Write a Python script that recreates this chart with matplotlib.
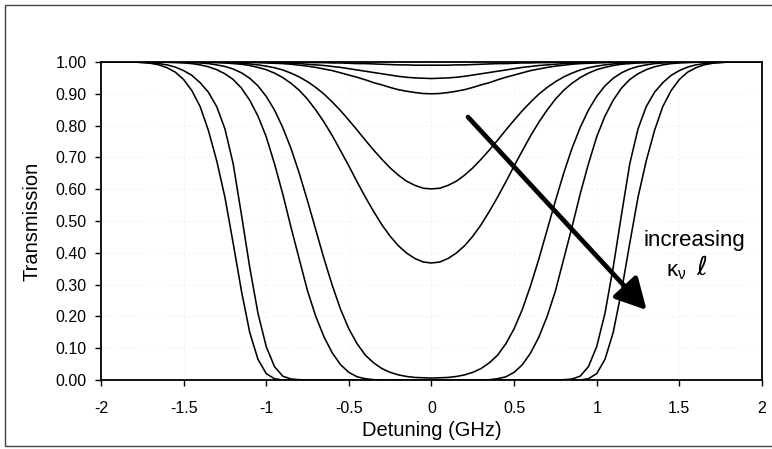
import matplotlib
matplotlib.use("Agg")
import matplotlib.pyplot as plt
from matplotlib.patches import Rectangle

# detuning grid (GHz) shared by every curve
detuning = [
    -2.00, -1.95, -1.90, -1.85, -1.80, -1.75, -1.70, -1.65, -1.60, -1.55,
    -1.50, -1.45, -1.40, -1.35, -1.30, -1.25, -1.20, -1.15, -1.10, -1.05,
    -1.00, -0.95, -0.90, -0.85, -0.80, -0.75, -0.70, -0.65, -0.60, -0.55,
    -0.50, -0.45, -0.40, -0.35, -0.30, -0.25, -0.20, -0.15, -0.10, -0.05,
    0.00,
    0.05, 0.10, 0.15, 0.20, 0.25, 0.30, 0.35, 0.40, 0.45, 0.50,
    0.55, 0.60, 0.65, 0.70, 0.75, 0.80, 0.85, 0.90, 0.95, 1.00,
    1.05, 1.10, 1.15, 1.20, 1.25, 1.30, 1.35, 1.40, 1.45, 1.50,
    1.55, 1.60, 1.65, 1.70, 1.75, 1.80, 1.85, 1.90, 1.95, 2.00,
]

# transmission curves, weakest absorption first
trans_1 = [
    1, 1, 1, 1, 1, 1, 1, 1, 1, 1,
    1, 1, 1, 1, 1, 1, 1, 1, 1, 1,
    1, 1, 1, 0.999, 0.999, 0.999, 0.998, 0.998, 0.997, 0.997,
    0.996, 0.995, 0.995, 0.994, 0.993, 0.992, 0.991, 0.991, 0.99, 0.99,
    0.99,
    0.99, 0.99, 0.991, 0.991, 0.992, 0.993, 0.994, 0.995, 0.995, 0.996,
    0.997, 0.997, 0.998, 0.998, 0.999, 0.999, 0.999, 1, 1, 1,
    1, 1, 1, 1, 1, 1, 1, 1, 1, 1,
    1, 1, 1, 1, 1, 1, 1, 1, 1, 1,
]
trans_2 = [
    1, 1, 1, 1, 1, 1, 1, 1, 1, 1,
    1, 1, 1, 1, 1, 1, 1, 1, 1, 0.999,
    0.999, 0.998, 0.997, 0.996, 0.995, 0.993, 0.991, 0.989, 0.986, 0.983,
    0.979, 0.975, 0.971, 0.967, 0.963, 0.959, 0.955, 0.952, 0.95, 0.949,
    0.948,
    0.949, 0.95, 0.952, 0.955, 0.959, 0.963, 0.967, 0.971, 0.975, 0.979,
    0.983, 0.986, 0.989, 0.991, 0.993, 0.995, 0.996, 0.997, 0.998, 0.999,
    0.999, 1, 1, 1, 1, 1, 1, 1, 1, 1,
    1, 1, 1, 1, 1, 1, 1, 1, 1, 1,
]
trans_3 = [
    1, 1, 1, 1, 1, 1, 1, 1, 1, 1,
    1, 1, 1, 1, 1, 1, 1, 0.999, 0.999, 0.998,
    0.997, 0.996, 0.995, 0.993, 0.99, 0.987, 0.983, 0.978, 0.973, 0.966,
    0.959, 0.952, 0.944, 0.935, 0.928, 0.92, 0.913, 0.908, 0.904, 0.901,
    0.9,
    0.901, 0.904, 0.908, 0.913, 0.92, 0.928, 0.935, 0.944, 0.952, 0.959,
    0.966, 0.973, 0.978, 0.983, 0.987, 0.99, 0.993, 0.995, 0.996, 0.997,
    0.998, 0.999, 0.999, 1, 1, 1, 1, 1, 1, 1,
    1, 1, 1, 1, 1, 1, 1, 1, 1, 1,
]
trans_4 = [
    1, 1, 1, 1, 1, 1, 1, 1, 1, 1,
    1, 1, 1, 0.999, 0.999, 0.998, 0.998, 0.996, 0.994, 0.991,
    0.987, 0.982, 0.975, 0.965, 0.953, 0.938, 0.92, 0.899, 0.874, 0.847,
    0.817, 0.786, 0.754, 0.723, 0.694, 0.667, 0.644, 0.625, 0.612, 0.603,
    0.601,
    0.603, 0.612, 0.625, 0.644, 0.667, 0.694, 0.723, 0.754, 0.786, 0.817,
    0.847, 0.874, 0.899, 0.92, 0.938, 0.953, 0.965, 0.975, 0.982, 0.987,
    0.991, 0.994, 0.996, 0.998, 0.998, 0.999, 0.999, 1, 1, 1,
    1, 1, 1, 1, 1, 1, 1, 1, 1, 1,
]
trans_5 = [
    1, 1, 1, 1, 1, 1, 1, 1, 1, 1,
    1, 1, 0.999, 0.999, 0.998, 0.997, 0.995, 0.993, 0.989, 0.983,
    0.976, 0.965, 0.951, 0.933, 0.911, 0.883, 0.849, 0.811, 0.768, 0.721,
    0.673, 0.623, 0.575, 0.53, 0.488, 0.452, 0.422, 0.399, 0.382, 0.371,
    0.368,
    0.371, 0.382, 0.399, 0.422, 0.452, 0.488, 0.53, 0.575, 0.623, 0.673,
    0.721, 0.768, 0.811, 0.849, 0.883, 0.911, 0.933, 0.951, 0.965, 0.976,
    0.983, 0.989, 0.993, 0.995, 0.997, 0.998, 0.999, 0.999, 1, 1,
    1, 1, 1, 1, 1, 1, 1, 1, 1, 1,
]
trans_6 = [
    1, 1, 1, 1, 1, 1, 1, 1, 1, 1,
    0.999, 0.998, 0.997, 0.995, 0.991, 0.986, 0.978, 0.966, 0.949, 0.925,
    0.892, 0.849, 0.794, 0.728, 0.65, 0.563, 0.472, 0.381, 0.297, 0.222,
    0.161, 0.114, 0.078, 0.054, 0.036, 0.024, 0.016, 0.011, 0.008, 0.007,
    0.006,
    0.007, 0.008, 0.011, 0.016, 0.024, 0.036, 0.054, 0.078, 0.114, 0.161,
    0.222, 0.297, 0.381, 0.472, 0.563, 0.65, 0.728, 0.794, 0.849, 0.892,
    0.925, 0.949, 0.966, 0.978, 0.986, 0.991, 0.995, 0.997, 0.998, 0.999,
    1, 1, 1, 1, 1, 1, 1, 1, 1, 1,
]
trans_7 = [
    1, 1, 1, 1, 1, 1, 1, 1, 0.999, 0.998,
    0.997, 0.995, 0.991, 0.985, 0.976, 0.963, 0.945, 0.918, 0.88, 0.83,
    0.765, 0.68, 0.585, 0.48, 0.38, 0.28, 0.2, 0.135, 0.085, 0.048,
    0.024, 0.01, 0.004, 0.001, 0, 0, 0, 0, 0, 0,
    0,
    0, 0, 0, 0, 0, 0, 0.001, 0.004, 0.01, 0.024,
    0.048, 0.085, 0.135, 0.2, 0.28, 0.38, 0.48, 0.585, 0.68, 0.765,
    0.83, 0.88, 0.918, 0.945, 0.963, 0.976, 0.985, 0.991, 0.995, 0.997,
    0.998, 0.999, 1, 1, 1, 1, 1, 1, 1, 1,
]
trans_8 = [
    1, 1, 1, 1, 1, 0.999, 0.998, 0.995, 0.991, 0.984,
    0.973, 0.958, 0.935, 0.905, 0.86, 0.79, 0.68, 0.52, 0.355, 0.21,
    0.105, 0.042, 0.012, 0.003, 0.001, 0, 0, 0, 0, 0,
    0, 0, 0, 0, 0, 0, 0, 0, 0, 0,
    0,
    0, 0, 0, 0, 0, 0, 0, 0, 0, 0,
    0, 0, 0, 0, 0, 0.001, 0.003, 0.012, 0.042, 0.105,
    0.21, 0.355, 0.52, 0.68, 0.79, 0.86, 0.905, 0.935, 0.958, 0.973,
    0.984, 0.991, 0.995, 0.998, 0.999, 1, 1, 1, 1, 1,
]
trans_9 = [
    1, 1, 1, 1, 1, 0.998, 0.996, 0.991, 0.982, 0.968,
    0.945, 0.91, 0.86, 0.785, 0.69, 0.575, 0.43, 0.28, 0.15, 0.065,
    0.02, 0.004, 0, 0, 0, 0, 0, 0, 0, 0,
    0, 0, 0, 0, 0, 0, 0, 0, 0, 0,
    0,
    0, 0, 0, 0, 0, 0, 0, 0, 0, 0,
    0, 0, 0, 0, 0, 0, 0, 0, 0.004, 0.02,
    0.065, 0.15, 0.28, 0.43, 0.575, 0.69, 0.785, 0.86, 0.91, 0.945,
    0.968, 0.982, 0.991, 0.996, 0.998, 1, 1, 1, 1, 1,
]
curves = [trans_1, trans_2, trans_3, trans_4, trans_5,
          trans_6, trans_7, trans_8, trans_9]

x_ticks = [-2, -1.5, -1, -0.5, 0, 0.5, 1, 1.5, 2]
x_tick_labels = ["-2", "-1.5", "-1", "-0.5", "0", "0.5", "1", "1.5", "2"]
y_ticks = [0.0, 0.1, 0.2, 0.3, 0.4, 0.5, 0.6, 0.7, 0.8, 0.9, 1.0]
y_tick_labels = ["0.00", "0.10", "0.20", "0.30", "0.40", "0.50",
                 "0.60", "0.70", "0.80", "0.90", "1.00"]

plt.rcParams["font.family"] = ["Liberation Sans", "DejaVu Sans"]
plt.rcParams["axes.unicode_minus"] = False
plt.rcParams["mathtext.fontset"] = "dejavusans"

fig = plt.figure(figsize=(7.72, 4.49), dpi=100)
ax = fig.add_axes([0.1308, 0.1537, 0.8562, 0.7082])

ax.set_axisbelow(True)
ax.grid(True, color="#dddddd", lw=0.6, ls=(0, (1, 4)))

for t in curves:
    ax.plot(detuning, t, color="black", lw=1.15, solid_joinstyle="round")

ax.set_xlim(-2, 2)
ax.set_ylim(0, 1)
ax.set_xticks(x_ticks)
ax.set_xticklabels(x_tick_labels)
ax.set_yticks(y_ticks)
ax.set_yticklabels(y_tick_labels)
ax.tick_params(axis="x", direction="out", length=4, width=1, pad=11,
               labelsize=11.5)
ax.tick_params(axis="y", direction="out", length=4.3, width=1, pad=6,
               labelsize=11.5)
for s in ax.spines.values():
    s.set_linewidth(1.3)

ax.set_xlabel("Detuning (GHz)", fontsize=14.5)
ax.set_ylabel("Transmission", fontsize=14.5)
ax.xaxis.set_label_coords(0.5, -0.160)
ax.xaxis.label.set_va("center")
ax.yaxis.set_label_coords(-0.1044, 0.5)
ax.yaxis.label.set_va("center")

# "increasing" arrow
ax.annotate("", xy=(1.302, 0.220), xytext=(0.221, 0.827),
            arrowprops=dict(arrowstyle="-|>,head_length=0.75,head_width=0.4",
                            lw=3.4, color="black", mutation_scale=25,
                            shrinkA=0, shrinkB=0))
ax.text(1.588, 0.438, "increasing", fontsize=16, ha="center", va="center")
ax.text(1.480, 0.340, r"$\mathregular{κ_{ν}}$", fontsize=16,
        ha="center", va="center")
ax.text(1.635, 0.352, r"$\ell$", fontsize=19, ha="center", va="center")

# outer chart frame
fig.patches.append(Rectangle((5 / 772, 3 / 449), 775 / 772, 441 / 449,
                             transform=fig.transFigure, fill=False,
                             ec="#444444", lw=1))

fig.savefig("out.png", dpi=100)
